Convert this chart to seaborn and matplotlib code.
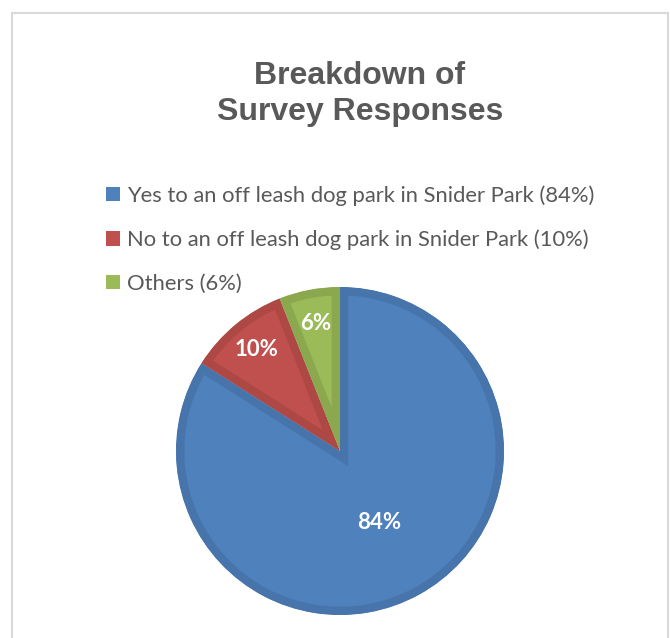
import matplotlib
matplotlib.use('Agg')
import matplotlib.pyplot as plt
from matplotlib.patches import Patch, Rectangle
import seaborn as sns
import numpy as np

sns.set_style("white")
plt.rcParams['font.family'] = ['Lato', 'DejaVu Sans']

# data
categories = ["Yes to an off leash dog park in Snider Park (84%)",
              "No to an off leash dog park in Snider Park (10%)",
              "Others (6%)"]
shares = [84, 10, 6]
fill_colors = ["#4F81BD", "#C0504D", "#9BBB59"]
edge_colors = ["#4775AB", "#AD4845", "#8BA84F"]
label_dist = [0.5, 0.8, 0.79]

W, H = 670, 638
fig = plt.figure(figsize=(W / 100, H / 100), dpi=100)

# chart frame (bottom edge cut off like the reference)
fig.patches.append(Rectangle((12 / W, -0.1), 656 / W, 1.1 - 13 / H,
                             transform=fig.transFigure, fill=False,
                             edgecolor="#D9D9D9", linewidth=1.5))

# pie area: centre (340, 451), radius 164 px
cx, cy, r = 340, 451, 164
ax = fig.add_axes([(cx - r) / W, (H - cy - r) / H, 2 * r / W, 2 * r / H])
wedges, texts, autotexts = ax.pie(shares, colors=fill_colors, startangle=90,
                                  counterclock=False, autopct='%1.0f%%',
                                  pctdistance=0.6, radius=1,
                                  textprops=dict(color="white", fontsize=16,
                                                 fontweight="bold"))
ax.set_xlim(-1, 1)
ax.set_ylim(-1, 1)
ax.set_aspect('equal')
ax.axis('off')

# darker inner band on every slice (stroke clipped to the slice itself)
for w, ec in zip(wedges, edge_colors):
    w.set_edgecolor(ec)
    w.set_linewidth(12)
    w.set_clip_path(w)
    w.set_clip_on(True)

# move the percentage labels like the original
for w, t, d in zip(wedges, autotexts, label_dist):
    ang = np.deg2rad((w.theta1 + w.theta2) / 2)
    t.set_position((d * np.cos(ang), d * np.sin(ang)))

fig.text(360 / W, 1 - 94 / H, "Breakdown of\nSurvey Responses", ha="center",
         va="center", fontsize=23, fontweight="bold", color="#595959",
         family="Liberation Sans", linespacing=1.22)

handles = [Patch(facecolor=c, edgecolor="none") for c in fill_colors]
fig.legend(handles, categories, loc="upper left",
           bbox_to_anchor=(106 / W, 1 - 185 / H), frameon=False,
           fontsize=15.8, labelcolor="#595959", handlelength=0.65,
           handleheight=0.65, handletextpad=0.3, labelspacing=1.08,
           borderpad=0, borderaxespad=0)

fig.savefig("out.png", dpi=100)
